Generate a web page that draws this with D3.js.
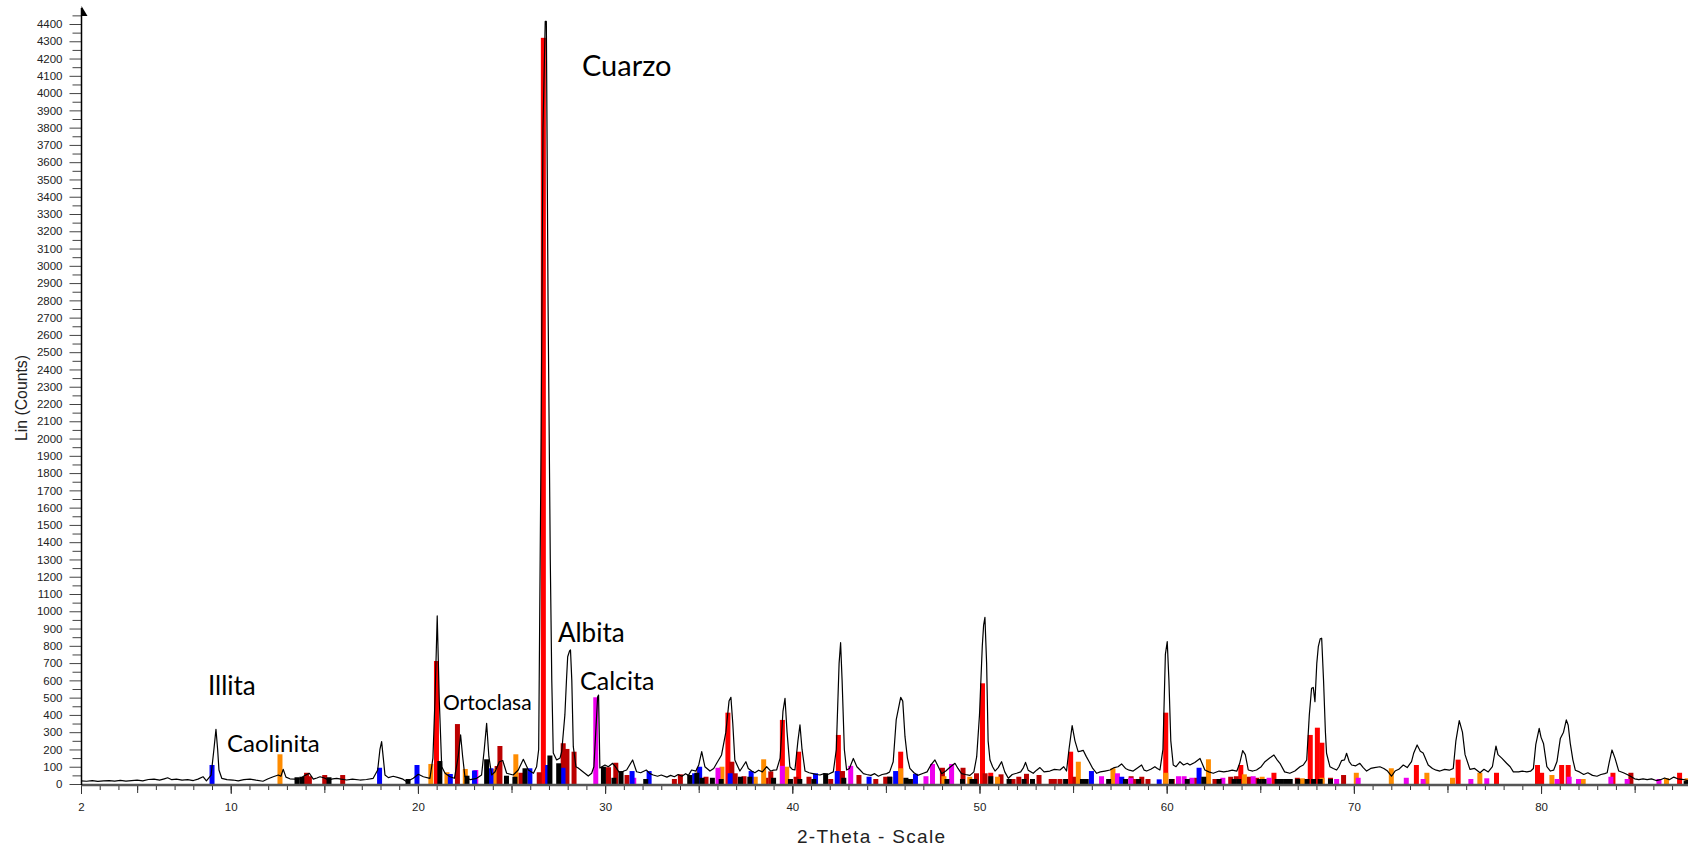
<!DOCTYPE html>
<html>
<head>
<meta charset="utf-8">
<script src="https://cdn.jsdelivr.net/npm/d3@7"></script>
<style>
  body { margin: 0; background: #fff; }
  text { font-family: "Liberation Sans", Arial, sans-serif; }
</style>
</head>
<body>
<svg id="chart"></svg>
<script>
// measured diffractogram, [2-theta, counts]
const profile = [
  [2.0,18],[2.3,16],[2.6,20],[2.9,15],[3.2,18],[3.5,20],[3.8,17],[4.1,21],[4.4,17],[4.7,20],
  [5.0,22],[5.3,18],[5.6,26],[5.9,28],[6.2,22],[6.45,30],[6.63,36],[6.85,25],[7.1,28],[7.4,22],
  [7.7,25],[8.0,20],[8.25,28],[8.52,42],[8.7,18],[8.95,52],[9.1,200],[9.21,317],[9.3,200],[9.37,81],
  [9.52,33],[9.8,25],[10.12,23],[10.4,18],[10.7,25],[11.03,28],[11.35,22],[11.72,16],[12.0,30],[12.27,42],
  [12.54,52],[12.68,45],[12.8,85],[12.95,40],[13.16,30],[13.45,28],[13.7,30],[13.97,50],[14.2,62],[14.41,28],
  [14.6,35],[14.77,42],[15.0,35],[15.21,23],[15.45,30],[15.66,33],[15.9,28],[16.19,23],[16.5,28],[16.9,23],
  [17.25,26],[17.61,33],[17.85,81],[17.97,200],[18.06,245],[18.15,150],[18.24,52],[18.42,37],[18.68,45],[18.95,37],
  [19.2,28],[19.4,13],[19.75,33],[20.02,56],[20.29,42],[20.64,33],[20.8,150],[20.91,486],[21.03,973],[21.14,486],
  [21.27,100],[21.45,62],[21.71,42],[21.95,33],[22.15,158],[22.28,284],[22.39,158],[22.51,42],[22.8,25],[23.14,33],
  [23.4,52],[23.54,197],[23.67,351],[23.79,158],[23.94,52],[24.12,71],[24.35,129],[24.53,136],[24.74,62],[25.09,52],
  [25.36,81],[25.63,143],[25.9,81],[26.17,62],[26.34,100],[26.45,200],[26.58,2000],[26.68,3800],[26.8,4415],[26.86,4415],
  [26.95,2800],[27.07,1300],[27.15,600],[27.23,180],[27.41,139],[27.59,150],[27.68,187],[27.85,400],[27.94,612],[28.0,737],
  [28.1,770],[28.15,776],[28.22,600],[28.3,216],[28.44,100],[28.56,93],[28.83,70],[29.1,46],[29.28,62],[29.4,100],
  [29.6,505],[29.65,515],[29.72,93],[29.99,110],[30.17,100],[30.4,120],[30.53,103],[30.79,62],[31.0,75],[31.15,81],
  [31.47,139],[31.68,71],[31.9,65],[32.2,81],[32.4,60],[32.57,52],[32.8,45],[33.0,52],[33.3,40],[33.5,50],
  [33.7,42],[33.9,55],[34.1,45],[34.3,60],[34.45,50],[34.62,81],[34.85,75],[35.0,110],[35.16,187],[35.33,100],
  [35.6,75],[35.8,90],[35.96,120],[36.22,168],[36.45,300],[36.62,480],[36.72,502],[36.82,350],[36.93,139],[37.05,110],
  [37.2,75],[37.35,100],[37.52,129],[37.65,90],[37.83,75],[38.0,65],[38.2,80],[38.4,70],[38.63,100],[38.85,75],
  [39.0,80],[39.16,81],[39.35,150],[39.5,420],[39.61,496],[39.72,300],[39.87,100],[40.0,85],[40.14,81],[40.3,250],
  [40.41,342],[40.52,200],[40.68,75],[40.9,65],[41.1,60],[41.3,55],[41.48,52],[41.7,60],[41.9,55],[42.19,70],
  [42.35,200],[42.5,700],[42.58,818],[42.66,600],[42.78,200],[42.9,81],[43.05,90],[43.26,148],[43.45,100],[43.62,81],
  [43.8,60],[43.97,55],[44.2,50],[44.4,60],[44.6,45],[44.8,55],[45.04,60],[45.2,70],[45.39,129],[45.55,371],
  [45.79,502],[45.9,480],[46.02,274],[46.15,150],[46.28,91],[46.5,65],[46.7,50],[47.0,62],[47.2,70],[47.4,110],
  [47.62,139],[47.8,100],[47.98,60],[48.2,75],[48.45,100],[48.69,120],[48.85,90],[49.04,60],[49.25,55],[49.49,50],
  [49.7,70],[49.85,158],[50.0,400],[50.15,800],[50.22,920],[50.29,965],[50.38,700],[50.46,250],[50.56,139],[50.7,100],
  [50.83,75],[51.0,95],[51.18,129],[51.35,70],[51.54,33],[51.75,55],[51.98,62],[52.2,70],[52.35,95],[52.46,125],
  [52.6,80],[52.87,62],[53.05,80],[53.23,95],[53.45,70],[53.76,75],[54.0,85],[54.3,81],[54.5,100],[54.65,75],
  [54.78,200],[54.95,338],[55.1,250],[55.27,187],[55.4,190],[55.54,195],[55.7,160],[55.86,129],[56.05,90],[56.26,62],
  [56.45,70],[56.7,75],[56.97,81],[57.2,95],[57.4,100],[57.59,116],[57.8,90],[58.0,80],[58.21,75],[58.4,90],
  [58.66,110],[58.8,80],[58.93,75],[59.15,85],[59.37,100],[59.5,90],[59.64,81],[59.8,200],[59.93,750],[60.03,824],
  [60.12,600],[60.22,250],[60.35,110],[60.5,100],[60.71,129],[60.9,110],[61.1,120],[61.24,110],[61.5,125],[61.78,148],
  [62.04,81],[62.25,70],[62.49,62],[62.8,75],[63.05,70],[63.29,75],[63.5,80],[63.75,75],[63.9,120],[64.06,193],
  [64.2,170],[64.36,81],[64.6,75],[64.8,81],[65.05,100],[65.25,129],[65.5,150],[65.73,168],[65.9,140],[66.05,120],
  [66.3,70],[66.58,62],[66.85,75],[67.12,100],[67.3,110],[67.48,139],[67.62,400],[67.74,554],[67.83,559],[67.92,477],
  [68.02,700],[68.1,795],[68.2,840],[68.28,844],[68.38,600],[68.48,300],[68.54,178],[68.72,100],[68.9,90],[69.08,81],
  [69.2,100],[69.34,135],[69.5,140],[69.61,178],[69.75,130],[69.88,110],[70.1,105],[70.32,120],[70.5,95],[70.68,75],
  [70.9,90],[71.1,95],[71.39,100],[71.6,90],[71.8,75],[72.01,45],[72.2,75],[72.4,85],[72.64,110],[72.85,95],
  [73.08,130],[73.2,180],[73.38,226],[73.55,190],[73.7,180],[73.97,110],[74.2,90],[74.4,80],[74.6,75],[74.85,85],
  [75.1,80],[75.31,90],[75.45,250],[75.63,367],[75.8,300],[75.94,170],[76.2,85],[76.45,90],[76.74,65],[76.95,85],
  [77.18,70],[77.4,100],[77.59,220],[77.7,170],[77.9,150],[78.16,120],[78.35,100],[78.52,70],[78.8,70],[79.0,75],
  [79.24,70],[79.45,75],[79.59,90],[79.72,230],[79.9,322],[80.0,270],[80.13,235],[80.31,100],[80.5,75],[80.67,80],
  [80.85,130],[81.03,264],[81.2,300],[81.35,371],[81.45,340],[81.56,235],[81.7,140],[81.83,80],[82.05,70],[82.28,55],
  [82.5,65],[82.75,50],[82.99,45],[83.2,55],[83.4,60],[83.53,65],[83.65,130],[83.79,197],[83.95,150],[84.15,75],
  [84.4,65],[84.6,55],[84.78,45],[85.0,30],[85.22,25],[85.45,30],[85.67,25],[85.9,30],[86.15,20],[86.38,25],
  [86.6,35],[86.85,25],[87.09,40],[87.3,30],[87.63,25],[87.85,20]
];

// reference lines of each phase, [2-theta, counts]
const cuarzo = [
  [20.99,712],[26.7,4320],[36.56,413],[39.47,371],[40.34,187],[42.46,284],[45.79,187],[50.16,583],[50.6,65],
  [54.87,187],[59.95,413],[63.96,110],[65.73,65],[67.67,284],[68.05,326],[68.29,239],[73.34,110],[75.57,141],
  [77.62,65],[79.81,110],[80.03,65],[81.1,110],[81.45,110],[83.84,65],[87.4,65]
];
const ortoclasa = [
  [14.05,65],[14.2,45],[15.02,52],[15.98,52],[22.11,347],[24.23,104],[24.38,220],[25.5,65],[26.48,68],
  [27.76,236],[27.96,203],[28.34,187],[30.18,97],[30.57,123],[31.17,52],[33.7,29],[34.02,56],[35.39,42],
  [36.77,129],[36.95,62],[37.42,45],[38.6,36],[38.85,73],[40.2,42],[40.89,42],[42.05,29],[42.68,75],[43.56,52],
  [44.46,29],[44.99,42],[45.2,42],[46.35,29],[48.02,94],[49.12,94],[49.84,62],[50.3,62],[51.15,56],[51.79,29],
  [52.1,42],[52.51,59],[53.18,52],[53.83,29],[54.0,29],[54.3,29],[55.1,42],[58.1,45],[58.3,29],[58.67,42],
  [59.0,29],[60.3,29],[61.6,36],[62.58,29],[63.42,42],[63.72,45],[64.4,42],[64.8,36],[66.98,36],[68.75,36],
  [69.45,52],[84.8,65]
];
const caolinita = [
  [12.63,172],[20.69,116],[21.55,68],[22.53,87],[24.07,87],[25.23,172],[35.01,94],[36.24,100],[38.02,42],
  [38.47,143],[39.7,100],[45.79,91],[48.1,45],[49.48,42],[50.96,42],[55.28,129],[57.13,91],[59.95,65],
  [62.23,143],[64.15,56],[65.1,42],[67.25,33],[68.3,36],[70.13,65],[72.0,91],[73.9,65],[75.27,36],[76.73,65],
  [80.58,52],[82.25,29],[86.7,33],[87.8,33]
];
const calcita = [
  [23.09,81],[29.5,502],[31.53,36],[36.03,94],[39.47,105],[43.12,105],[47.14,45],[47.49,116],[48.51,116],
  [56.52,45],[57.37,62],[58.08,36],[60.63,45],[60.93,45],[61.34,36],[63.0,36],[64.62,45],[65.47,36],[69.08,29],
  [70.23,36],[72.8,36],[73.7,29],[76.25,29],[77.1,33],[80.86,29],[81.5,42],[82.0,29],[83.73,42],[84.6,29],[86.3,29]
];
const illita = [
  [9.0,110],[17.95,94],[19.95,110],[21.73,58],[23.02,78],[23.9,91],[25.98,91],[26.93,110],[27.75,94],[31.44,75],
  [32.35,75],[34.78,62],[35.05,100],[36.68,62],[37.8,75],[41.24,62],[42.4,75],[44.1,42],[45.52,75],[46.58,59],
  [55.98,75],[57.6,42],[59.6,27],[61.73,94]
];
const albita = [
  [13.54,39],[13.8,42],[15.25,39],[19.47,29],[21.17,133],[22.62,48],[23.67,143],[24.73,48],[25.18,42],[25.72,91],
  [27.05,165],[27.52,120],[29.91,100],[30.47,36],[30.85,75],[32.17,29],[34.52,52],[34.9,65],[35.18,36],[35.73,36],
  [36.2,29],[37.23,42],[37.73,42],[39.0,36],[39.9,29],[40.4,29],[41.15,29],[41.78,62],[42.75,36],[45.21,42],
  [46.07,36],[46.3,29],[48.26,29],[49.09,29],[49.6,29],[49.75,29],[50.6,45],[51.58,29],[52.38,29],[52.83,29],
  [54.6,29],[55.5,29],[55.7,29],[56.9,29],[57.8,29],[58.5,29],[60.25,29],[61.1,29],[61.98,42],[62.8,29],
  [63.6,29],[63.85,29],[64.95,29],[65.2,29],[65.9,29],[66.1,29],[66.35,29],[66.6,29],[67.0,29],[67.5,29],
  [67.85,29],[68.2,29],[68.75,29],[87.75,17]
];

const xLabels = [2, 10, 20, 30, 40, 50, 60, 70, 80];
const yLabels = d3.range(0, 4401, 100);

const annotations = [
  { name: "Cuarzo", at: [28.76, 4099], size: 29 },
  { name: "Illita", at: [8.78, 515], size: 26 },
  { name: "Caolinita", at: [9.8, 185], size: 24 },
  { name: "Ortoclasa", at: [21.34, 428], size: 21 },
  { name: "Albita", at: [27.48, 822], size: 26 },
  { name: "Calcita", at: [28.66, 544], size: 25 }
];

const WIDTH = 1688, HEIGHT = 846;

const svg = d3.select("#chart")
  .attr("width", WIDTH)
  .attr("height", HEIGHT);

const x = d3.scaleLinear([2, 87.85], [81, 1688]);
const y = d3.scaleLinear([0, 4400], [784, 24]);

// sticks, drawn in the order they overlap in the original
const phases = [
  { data: cuarzo, color: "#ff0000" },
  { data: ortoclasa, color: "#bb0000" },
  { data: caolinita, color: "#ff8c00" },
  { data: calcita, color: "#ee00ee" },
  { data: illita, color: "#0000ff" },
  { data: albita, color: "#000000" }
];

const BAR_W = 5;
phases.forEach(p => {
  svg.append("g")
    .selectAll("rect")
    .data(p.data)
    .enter()
    .append("rect")
    .attr("x", d => x(d[0]) - BAR_W / 2)
    .attr("y", d => y(d[1]))
    .attr("width", BAR_W)
    .attr("height", d => y(0) - y(d[1]))
    .style("fill", p.color);
});

// pattern
svg.append("path")
  .datum(profile)
  .attr("d", d3.line().x(d => x(d[0])).y(d => y(d[1])))
  .attr("fill", "none")
  .attr("stroke", "#000")
  .attr("stroke-width", 1.2)
  .attr("stroke-linejoin", "round");

// x axis: ticks every 1, longer at 5 and 10
const xg = svg.append("g").attr("transform", `translate(0,${y(0) + 1})`);
xg.append("g")
  .call(d3.axisBottom(x).tickValues(d3.range(3, 88, 1)).tickSize(5).tickFormat(""));
xg.append("g")
  .call(d3.axisBottom(x).tickValues(d3.range(5, 88, 5)).tickSize(8).tickFormat(""));
xg.append("g")
  .call(d3.axisBottom(x).tickValues(xLabels).tickSize(9).tickPadding(9).tickFormat(d3.format("d")));
xg.selectAll(".domain").remove();
xg.selectAll(".tick line").attr("stroke", "#333");
xg.selectAll(".tick text")
  .attr("font-size", 11.5)
  .attr("fill", "#222")
  .style("font-family", "Liberation Sans, Arial, sans-serif");
xg.append("line")
  .attr("x1", x(2)).attr("x2", WIDTH)
  .attr("y1", 0).attr("y2", 0)
  .attr("stroke", "#555")
  .attr("stroke-width", 2.5);

// y axis: ticks every 50, labels every 100
const yg = svg.append("g").attr("transform", `translate(${x(2) + 0.5},0)`);
yg.append("g")
  .call(d3.axisLeft(y).tickValues(d3.range(50, 4451, 100)).tickSize(9).tickFormat(""));
yg.append("g")
  .call(d3.axisLeft(y).tickValues(yLabels).tickSize(12).tickPadding(7).tickFormat(d3.format("d")));
yg.selectAll(".domain").remove();
yg.selectAll(".tick line").attr("stroke", "#444");
yg.selectAll(".tick text")
  .attr("font-size", 11.5)
  .attr("fill", "#222")
  .style("font-family", "Liberation Sans, Arial, sans-serif");
yg.append("line")
  .attr("x1", 0).attr("x2", 0)
  .attr("y1", y(0) + 1).attr("y2", 8)
  .attr("stroke", "#000")
  .attr("stroke-width", 1.5);
yg.append("path")
  .attr("d", "M0,6 L6,16 L0,16 Z")
  .attr("fill", "#000");

// axis titles
svg.append("text")
  .attr("x", 797)
  .attr("y", 843)
  .attr("font-size", 19)
  .attr("fill", "#222")
  .attr("textLength", 148)
  .attr("lengthAdjust", "spacing")
  .text("2-Theta - Scale");

svg.append("text")
  .attr("transform", "translate(27,398) rotate(-90)")
  .attr("text-anchor", "middle")
  .attr("font-size", 16.5)
  .attr("fill", "#222")
  .attr("textLength", 86)
  .attr("lengthAdjust", "spacingAndGlyphs")
  .text("Lin (Counts)");

// mineral names
svg.append("g")
  .selectAll("text")
  .data(annotations)
  .enter()
  .append("text")
  .attr("x", d => x(d.at[0]))
  .attr("y", d => y(d.at[1]))
  .attr("font-size", d => d.size)
  .attr("fill", "#000")
  .style("font-family", "Lato, 'Liberation Sans', sans-serif")
  .text(d => d.name);
</script>
</body>
</html>
